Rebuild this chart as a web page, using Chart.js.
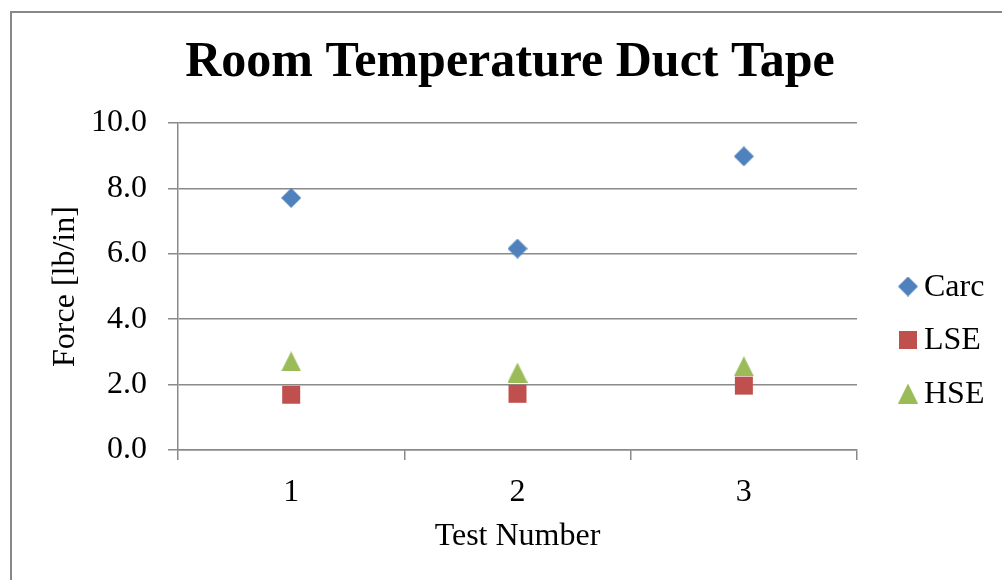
<!DOCTYPE html>
<html>
<head>
<meta charset="utf-8">
<script src="https://cdn.jsdelivr.net/npm/chart.js@4/dist/chart.umd.min.js"></script>
<style>
  body { margin: 0; background: #fff; overflow: hidden; }
  #wrap { position: relative; width: 1002px; height: 580px; }
  #frame {
    position: absolute; left: 10px; top: 11px; width: 1100px; height: 700px;
    border-left: 2px solid #888; border-top: 2px solid #888;
  }
  #chart { position: absolute; left: 0; top: 0; }
</style>
</head>
<body>
<div id="wrap">
  <div id="frame"></div>
  <canvas id="chart" width="1002" height="580"></canvas>
</div>
<script>
// ══════════════════════════════════════════
// DATA
// ══════════════════════════════════════════
const testNumbers = ["1", "2", "3"];
const carc = [7.71, 6.16, 8.98];
const lse = [1.69, 1.72, 1.97];
const hse = [2.71, 2.37, 2.56];
const yTicks = [0, 2, 4, 6, 8, 10];
const chartTitle = "Room Temperature Duct Tape";

const SERIF = "'Liberation Serif', 'Times New Roman', serif";
const GRID = "#8a8a8a";

// marker images (Excel-like: centred on the bounding box)
function marker(kind, color) {
  const s = 20;
  const c = document.createElement("canvas");
  c.width = s; c.height = s;
  const g = c.getContext("2d");
  g.fillStyle = color;
  g.beginPath();
  if (kind === "diamond") {
    g.moveTo(s / 2, 0); g.lineTo(s, s / 2); g.lineTo(s / 2, s); g.lineTo(0, s / 2);
  } else if (kind === "square") {
    g.rect(1, 1, s - 2, s - 2);
  } else {
    g.moveTo(s / 2, 0); g.lineTo(s, s); g.lineTo(0, s);
  }
  g.closePath();
  g.fill();
  return c;
}

const series = [
  { label: "Carc", data: carc, img: marker("diamond", "#4F81BD"), color: "#4F81BD" },
  { label: "LSE", data: lse, img: marker("square", "#C0504D"), color: "#C0504D" },
  { label: "HSE", data: hse, img: marker("triangle", "#9BBB59"), color: "#9BBB59" },
];

// ══════════════════════════════════════════
// TITLE + LEGEND (drawn on the canvas)
// ══════════════════════════════════════════
const decorations = {
  id: "decorations",
  afterDraw(chart) {
    const { ctx, chartArea } = chart;
    ctx.save();
    ctx.fillStyle = "#000";
    ctx.textBaseline = "middle";

    // title
    ctx.font = "bold 50px " + SERIF;
    ctx.textAlign = "center";
    ctx.fillText(chartTitle, 510, 63);

    // legend
    const x = chartArea.right + 51;
    const y0 = (chartArea.top + chartArea.bottom) / 2;
    ctx.font = "32px " + SERIF;
    ctx.textAlign = "left";
    chart.data.datasets.forEach((ds, i) => {
      const y = y0 + i * 53.5;
      ctx.drawImage(ds.pointStyle, x - 10, y - 10);
      ctx.fillText(ds.label, x + 16, y + 1);
    });
    ctx.restore();
  },
};

// ══════════════════════════════════════════
// CHART
// ══════════════════════════════════════════
new Chart(document.getElementById("chart"), {
  type: "line",
  data: {
    labels: testNumbers,
    datasets: series.map((s) => ({
      label: s.label,
      data: s.data,
      showLine: false,
      pointStyle: s.img,
      pointRadius: 10,
      pointHoverRadius: 10,
      backgroundColor: s.color,
      borderColor: s.color,
    })),
  },
  options: {
    responsive: false,
    animation: false,
    events: [],
    layout: { padding: { left: 46, top: 123, right: 145, bottom: 20 } },
    plugins: {
      legend: { display: false },
      tooltip: { enabled: false },
      title: { display: false },
    },
    scales: {
      x: {
        type: "category",
        offset: true,
        grid: { offset: true, drawOnChartArea: false, tickLength: 10, color: GRID, lineWidth: 1.5 },
        border: { color: GRID, width: 1.5 },
        ticks: { color: "#000", font: { family: SERIF, size: 32 }, padding: 13 },
        title: {
          display: true, text: "Test Number", color: "#000",
          font: { family: SERIF, size: 32 }, padding: { top: 0, bottom: 4 },
        },
        afterFit(scale) { scale.height = 580 - 450 - 20; },
      },
      y: {
        min: 0,
        max: 10,
        afterBuildTicks(scale) { scale.ticks = yTicks.map((v) => ({ value: v })); },
        grid: { tickLength: 10, color: GRID, lineWidth: 1.5 },
        border: { color: GRID, width: 1.5 },
        ticks: {
          color: "#000", font: { family: SERIF, size: 32 }, padding: 21,
          callback: (v) => v.toFixed(1),
        },
        title: {
          display: true, text: "Force [lb/in]", color: "#000",
          font: { family: SERIF, size: 32 }, padding: { top: 0, bottom: 0 },
        },
        afterFit(scale) { scale.width = 178 - 46; },
      },
    },
  },
  plugins: [decorations],
});
</script>
</body>
</html>
